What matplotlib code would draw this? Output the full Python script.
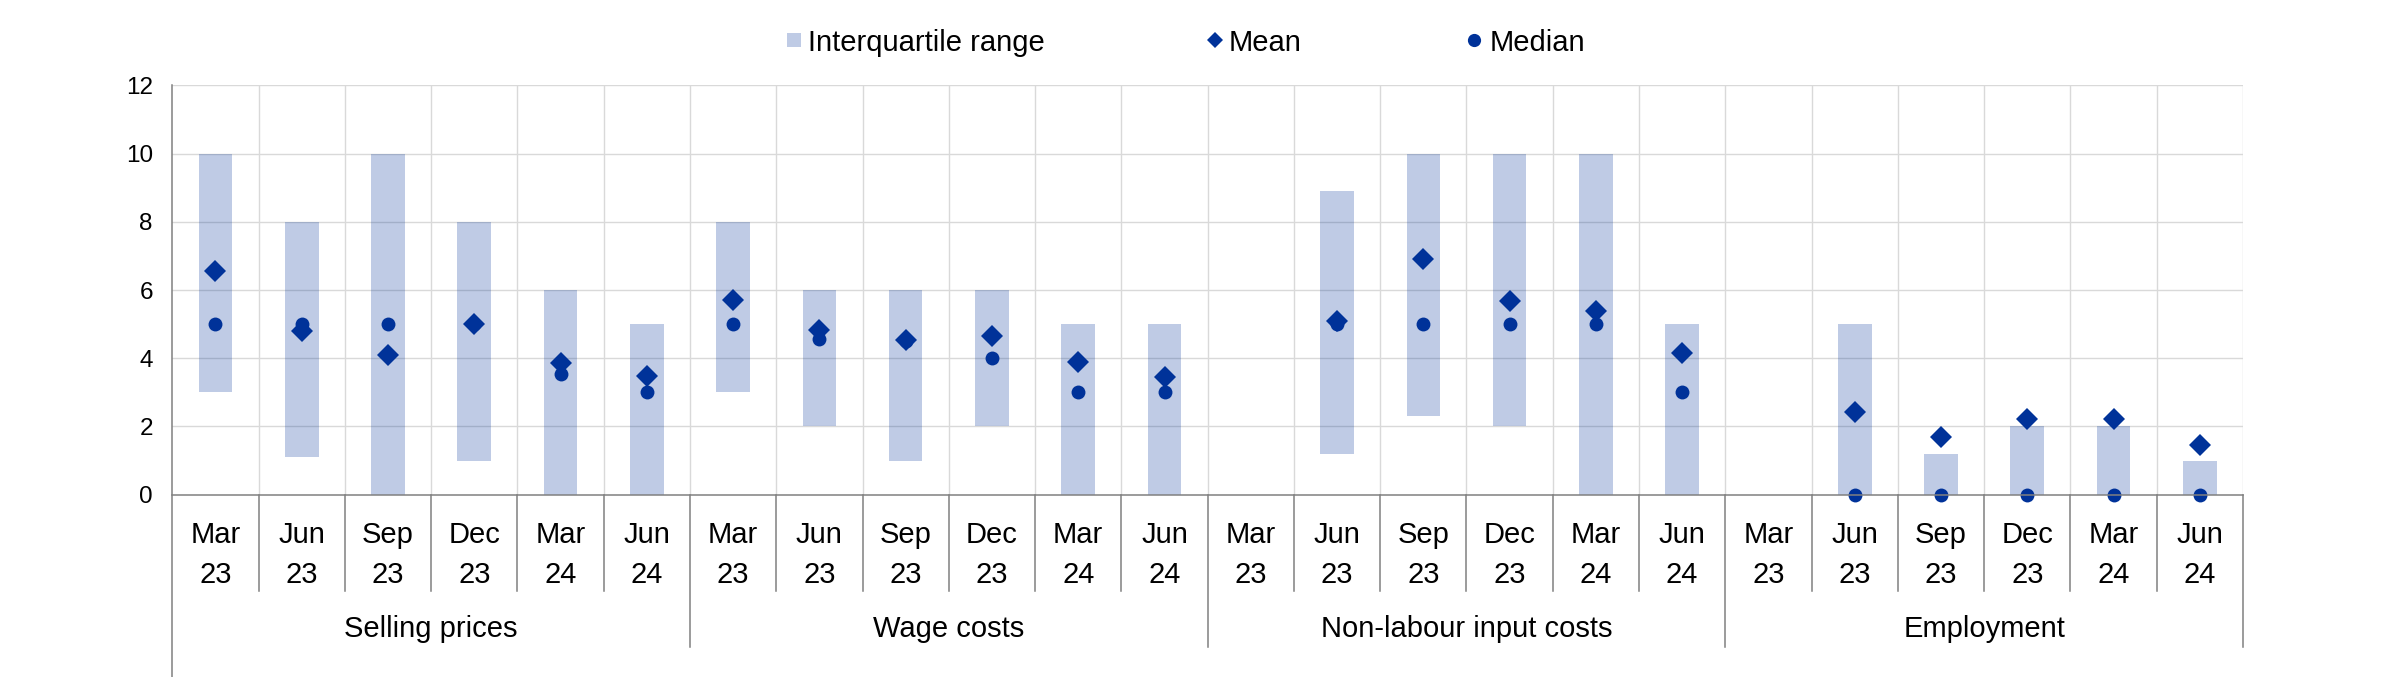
import numpy as np
import matplotlib
matplotlib.use("Agg")
import matplotlib.pyplot as plt
from matplotlib.patches import Rectangle
from matplotlib.lines import Line2D
import matplotlib.transforms as mtransforms

plt.rcParams['font.family'] = ['Liberation Sans', 'DejaVu Sans']

# ---------------- data ----------------
groups = ["Selling prices", "Wage costs", "Non-labour input costs", "Employment"]
months = ["Mar", "Jun", "Sep", "Dec", "Mar", "Jun"]
years = ["23", "23", "23", "23", "24", "24"]

nan = np.nan
selling_q1 = [3.0, 1.1, 0.0, 1.0, 0.0, 0.0]
selling_q3 = [10.0, 8.0, 10.0, 8.0, 6.0, 5.0]
selling_mean = [6.57, 4.81, 4.10, 5.00, 3.86, 3.49]
selling_median = [5.0, 5.0, 5.0, 5.0, 3.55, 3.0]

wage_q1 = [3.0, 2.0, 1.0, 2.0, 0.0, 0.0]
wage_q3 = [8.0, 6.0, 6.0, 6.0, 5.0, 5.0]
wage_mean = [5.72, 4.82, 4.52, 4.66, 3.88, 3.44]
wage_median = [5.0, 4.55, 4.5, 4.0, 3.0, 3.0]

nonlab_q1 = [nan, 1.2, 2.3, 2.0, 0.0, 0.0]
nonlab_q3 = [nan, 8.9, 10.0, 10.0, 10.0, 5.0]
nonlab_mean = [nan, 5.08, 6.92, 5.67, 5.38, 4.14]
nonlab_median = [nan, 5.0, 5.0, 5.0, 5.0, 3.0]

empl_q1 = [nan, 0.0, 0.0, 0.0, 0.0, 0.0]
empl_q3 = [nan, 5.0, 1.18, 2.0, 2.0, 1.0]
empl_mean = [nan, 2.42, 1.68, 2.23, 2.23, 1.47]
empl_median = [nan, 0.0, 0.0, 0.0, 0.0, 0.0]

q1 = np.array(selling_q1 + wage_q1 + nonlab_q1 + empl_q1)
q3 = np.array(selling_q3 + wage_q3 + nonlab_q3 + empl_q3)
mean = np.array(selling_mean + wage_mean + nonlab_mean + empl_mean)
median = np.array(selling_median + wage_median + nonlab_median + empl_median)

y_ticks = [0, 2, 4, 6, 8, 10, 12]

# ---------------- style ----------------
W, H = 2382, 677
BAR_C = "#003399"
MARK_C = "#003299"
GRID_C = "#D9D9D9"
AXIS_C = "#808080"
FS = 21

fig = plt.figure(figsize=(W / 100, H / 100), dpi=100)
ax_left, ax_right = 172.3, 2243.0
ax_top, ax_bot = 85.3, 494.7
ax = fig.add_axes([ax_left / W, 1 - ax_bot / H, (ax_right - ax_left) / W, (ax_bot - ax_top) / H])

def ypx(p):
    """pixel row (below axes bottom) -> axes fraction"""
    return (ax_bot - p) / (ax_bot - ax_top)

n = len(q1)
x = np.arange(n) + 0.5
valid = ~np.isnan(q1)

ax.bar(x[valid], (q3 - q1)[valid], bottom=q1[valid], width=0.39,
       color=BAR_C, alpha=0.25, linewidth=0, zorder=2)
ax.plot(x, mean, linestyle='none', marker='D', markersize=11, color=MARK_C,
        markeredgewidth=0, zorder=4, clip_on=False)
ax.plot(x, median, linestyle='none', marker='o', markersize=10, color=MARK_C,
        markeredgewidth=0, zorder=3, clip_on=False)

ax.set_xlim(0, n)
ax.set_ylim(0, 12)
ax.set_yticks(y_ticks)
ax.set_xticks([])
ax.tick_params(axis='y', length=0, pad=14, labelsize=17.5)

# grid
for yv in y_ticks[1:]:
    ax.axhline(yv, color=GRID_C, lw=1.0, zorder=1)
for xv in range(1, n + 1):
    ax.axvline(xv, color=GRID_C, lw=1.0, zorder=1)

for s in ax.spines.values():
    s.set_visible(False)

trans = mtransforms.blended_transform_factory(ax.transData, ax.transAxes)
# zero line
ax.plot([0, n], [0, 0], transform=trans, color=AXIS_C, lw=1.1, clip_on=False, zorder=5)
# y axis line extending to bottom
ax.plot([0, 0], [1, ypx(677)], transform=trans, color=AXIS_C, lw=1.1, clip_on=False, zorder=5)
# category separators
for xv in range(1, n + 1):
    bottom = ypx(647) if xv % 6 == 0 else ypx(591)
    ax.plot([xv, xv], [0, bottom], transform=trans, color=AXIS_C, lw=1.1, clip_on=False)

# category labels
for i in range(n):
    ax.text(x[i], ypx(543), months[i % 6], transform=trans, ha='center', va='baseline', fontsize=FS)
    ax.text(x[i], ypx(583), years[i % 6], transform=trans, ha='center', va='baseline', fontsize=FS)
for g, name in enumerate(groups):
    ax.text(g * 6 + 3, ypx(637), name, transform=trans, ha='center', va='baseline', fontsize=FS)

# legend (manual, figure pixel positions)
def fx(p):
    return p / W
def fy(p):
    return 1 - p / H

fig.patches.append(Rectangle((fx(787), fy(47)), 14 / W, 14 / H, transform=fig.transFigure,
                             facecolor=BAR_C, alpha=0.25, linewidth=0))
fig.lines.append(Line2D([fx(1215)], [fy(40)], transform=fig.transFigure, marker='D',
                        markersize=8.5, color=MARK_C, markeredgewidth=0, linestyle='none'))
fig.lines.append(Line2D([fx(1474)], [fy(40)], transform=fig.transFigure, marker='o',
                        markersize=9.5, color=MARK_C, markeredgewidth=0, linestyle='none'))
for tx, label in [(808, "Interquartile range"), (1229, "Mean"), (1490, "Median")]:
    fig.text(fx(tx), fy(40), label, ha='left', va='center_baseline', fontsize=FS)

fig.savefig("out.png", dpi=100)
